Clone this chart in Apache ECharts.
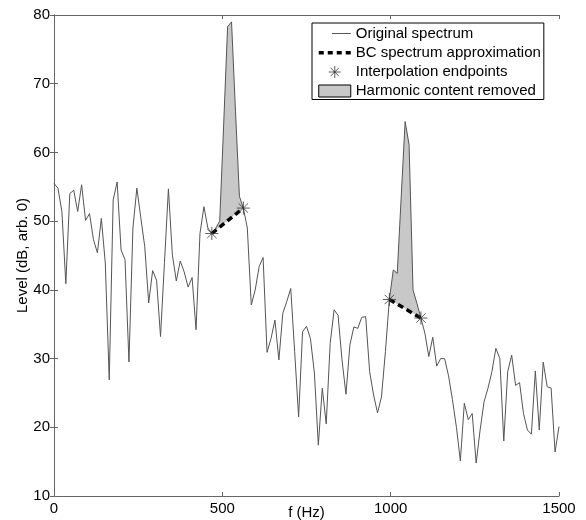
<!DOCTYPE html>
<html><head><meta charset="utf-8">
<script src="https://cdn.jsdelivr.net/npm/echarts@6/dist/echarts.min.js"></script>
<style>html,body{margin:0;padding:0;background:#fff}#c{width:586px;height:520px}</style>
</head><body><div id="c"></div>
<script>
// FFT bin width (Hz) of the spectrum bins
const binHz = 48000 / 4096;
// Spectrum level (dB, arb. 0) at each bin k = 0..128
const level = [
  55.5, 54.8, 51.4, 40.9, 54.0, 54.5, 51.4, 55.3, 50.1, 51.1,
  47.3, 45.4, 50.4, 43.9, 26.9, 53.1, 55.7, 45.8, 44.4, 29.5,
  49.0, 54.8, 50.5, 46.3, 38.1, 42.8, 41.4, 33.2, 44.0, 54.7,
  45.1, 41.3, 44.2, 42.6, 40.4, 41.8, 34.2, 48.2, 52.1, 49.0,
  48.2, 49.0, 50.0, 64.0, 78.3, 79.0, 66.0, 53.6, 51.9, 49.0,
  37.8, 40.0, 43.4, 44.7, 30.9, 32.9, 35.6, 29.8, 36.6, 38.3,
  40.2, 31.0, 21.5, 33.9, 34.7, 32.9, 27.9, 17.4, 25.7, 20.5,
  32.2, 37.1, 36.3, 29.8, 24.8, 32.0, 34.6, 34.4, 36.0, 36.1,
  28.1, 24.7, 22.1, 24.4, 31.0, 38.6, 42.9, 42.4, 53.5, 64.5,
  61.1, 40.0, 38.0, 35.9, 33.7, 30.3, 33.1, 28.9, 30.0, 30.0,
  27.5, 24.0, 20.0, 15.1, 23.5, 21.1, 22.0, 14.8, 19.6, 23.7,
  25.7, 28.1, 31.5, 30.0, 18.0, 28.1, 30.5, 26.1, 26.5, 22.0,
  19.6, 19.0, 28.2, 19.6, 29.5, 25.9, 25.7, 16.4, 20.1
];
// Interpolation endpoint bin pairs (start, end) of each removed harmonic
const endpointPairs = [[40, 48], [85, 93]];
const xTicks = [0, 500, 1000, 1500];
const yTicks = [10, 20, 30, 40, 50, 60, 70, 80];
const names = ['Original spectrum', 'BC spectrum approximation', 'Interpolation endpoints', 'Harmonic content removed'];

const pt = k => [k * binHz, level[k]];
const spectrumData = level.map((v, k) => [k * binHz, v]);
const starData = [];
endpointPairs.forEach(p => { starData.push(pt(p[0])); starData.push(pt(p[1])); });

const FONT = 'Liberation Sans, Arial, Helvetica, sans-serif';
const starPath = 'path://M0,-6L0,6M-6,0L6,0M-4.3,-4.3L4.3,4.3M-4.3,4.3L4.3,-4.3';
const starLegendPath = 'path://M0,0M32,12M16,0L16,12M10,6L22,6M11.8,1.8L20.2,10.2M11.8,10.2L20.2,1.8';
const lineLegendPath = 'path://M0,0M32,12M14,6L34,6';
const dashLegendPath = 'path://M0,0M32,12M0,6L32,6';

const axisCommon = {
  axisLine: { show: true, lineStyle: { color: '#666', width: 1 } },
  axisTick: { show: true, inside: true, length: 4, lineStyle: { color: '#666' } },
  splitLine: { show: false },
  axisLabel: { fontFamily: FONT, fontSize: 15, color: '#000', formatter: v => String(v) }
};

const chart = echarts.init(document.getElementById('c'), null, { renderer: 'canvas' });

const series = [
  {
    name: names[3], type: 'custom', xAxisIndex: 0, yAxisIndex: 0, z: 1,
    data: endpointPairs,
    itemStyle: { color: '#c8c8c8' },
    renderItem: function (params, api) {
      const i = api.value(0), j = api.value(1);
      const pts = [];
      for (let k = i; k <= j; k++) pts.push(api.coord(pt(k)));
      return { type: 'polygon', shape: { points: pts }, style: { fill: '#c8c8c8', stroke: null } };
    },
    silent: true
  },
  {
    name: names[0], type: 'line', data: spectrumData, symbol: 'none', z: 3,
    lineStyle: { color: '#555', width: 1 }, itemStyle: { color: '#555' }
  }
];
endpointPairs.forEach(p => {
  series.push({
    name: names[1], type: 'line', data: [pt(p[0]), pt(p[1])], symbol: 'none', z: 4,
    lineStyle: { color: '#000', width: 3.5, type: [6, 4] }, itemStyle: { color: '#000' }
  });
});
series.push({
  name: names[2], type: 'scatter', data: starData, symbol: starPath, symbolSize: 13, z: 5,
  symbolKeepAspect: true,
  itemStyle: { color: 'transparent', borderColor: '#333', borderWidth: 1 }
});

chart.setOption({
  animation: false,
  backgroundColor: '#fff',
  textStyle: { fontFamily: FONT },
  grid: { left: 54, right: 27, top: 15, bottom: 24, containLabel: false, outerBoundsMode: 'none' },
  xAxis: [
    Object.assign({}, axisCommon, {
      type: 'value', min: xTicks[0], max: xTicks[xTicks.length - 1], interval: xTicks[1] - xTicks[0],
      name: 'f (Hz)', nameLocation: 'middle', nameGap: 9, nameMoveOverlap: false,
      nameTextStyle: { fontFamily: FONT, fontSize: 15, color: '#000', verticalAlign: 'top' },
      axisLabel: Object.assign({}, axisCommon.axisLabel, { margin: 5 })
    }),
    Object.assign({}, axisCommon, {
      type: 'value', position: 'top', min: xTicks[0], max: xTicks[xTicks.length - 1], interval: xTicks[1] - xTicks[0],
      axisLabel: { show: false }
    })
  ],
  yAxis: [
    Object.assign({}, axisCommon, {
      type: 'value', min: yTicks[0], max: yTicks[yTicks.length - 1], interval: yTicks[1] - yTicks[0],
      name: 'Level (dB, arb. 0)', nameLocation: 'middle', nameGap: 24, nameMoveOverlap: false,
      nameTextStyle: { fontFamily: FONT, fontSize: 15, color: '#000' },
      axisLabel: Object.assign({}, axisCommon.axisLabel, { margin: 4 })
    }),
    Object.assign({}, axisCommon, {
      type: 'value', position: 'right', min: yTicks[0], max: yTicks[yTicks.length - 1], interval: yTicks[1] - yTicks[0],
      axisLabel: { show: false }
    })
  ],
  legend: {
    orient: 'vertical', left: 312, top: 23,
    padding: [3, 3, 1, 5], itemGap: 4, itemWidth: 32, itemHeight: 12, itemTextGap: 4,
    borderColor: '#000', borderWidth: 1, backgroundColor: '#fff',
    textStyle: { fontFamily: FONT, fontSize: 15, color: '#000', lineHeight: 15 },
    data: [
      { name: names[0], icon: lineLegendPath, itemStyle: { color: 'transparent', borderColor: '#555', borderWidth: 1 } },
      { name: names[1], icon: dashLegendPath, itemStyle: { color: 'transparent', borderColor: '#000', borderWidth: 3.5, borderType: [5, 4] } },
      { name: names[2], icon: starLegendPath, itemStyle: { color: 'transparent', borderColor: '#333', borderWidth: 1 } },
      { name: names[3], icon: 'rect', itemStyle: { color: '#c8c8c8', borderColor: '#000', borderWidth: 1 } }
    ]
  },
  series: series
});
</script>
</body></html>
